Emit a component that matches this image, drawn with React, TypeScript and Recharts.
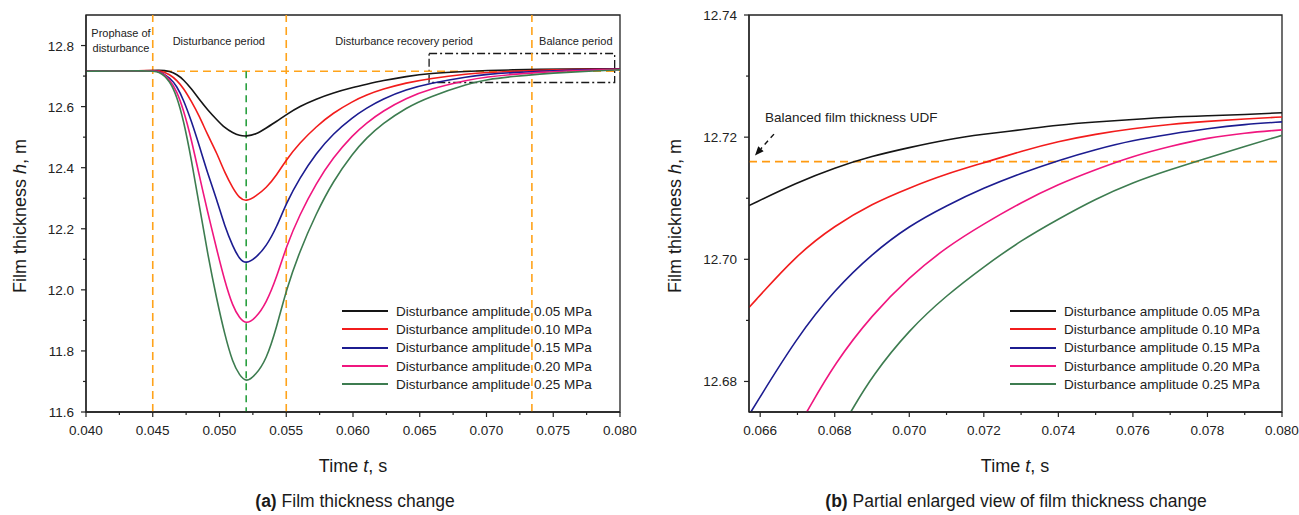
import React from "react";
import { LineChart, Line, XAxis, YAxis, ReferenceLine, ReferenceArea, ReferenceDot, Legend } from "recharts";

const FONT = '"Liberation Sans", Arial, Helvetica, sans-serif';
const AXIS = "#222";
const ORANGE = "#ffa31a";

const seriesNames = [
  "Disturbance amplitude 0.05 MPa",
  "Disturbance amplitude 0.10 MPa",
  "Disturbance amplitude 0.15 MPa",
  "Disturbance amplitude 0.20 MPa",
  "Disturbance amplitude 0.25 MPa",
];
const seriesKeys = ["a05", "a10", "a15", "a20", "a25"];
const seriesColors = ["#151515", "#f21c1c", "#1c1c90", "#f0167f", "#3d7c50"];

// (a) full time history
const fullTime = [0.040, 0.0445, 0.0455, 0.0463, 0.0468, 0.0473, 0.0479, 0.0485, 0.0491, 0.0498, 0.0504, 0.0510, 0.0515, 0.0520, 0.0527, 0.0535, 0.0543, 0.0550, 0.0560, 0.05725, 0.0585, 0.0600, 0.0610, 0.0622, 0.0640, 0.0657, 0.0687, 0.070, 0.072, 0.074, 0.076, 0.078, 0.080];
const full05 = [12.716, 12.717, 12.720, 12.716, 12.705, 12.689, 12.658, 12.623, 12.590, 12.557, 12.530, 12.514, 12.505, 12.503, 12.508, 12.530, 12.552, 12.574, 12.601, 12.625, 12.645, 12.663, 12.673, 12.685, 12.699, 12.709, 12.716, 12.7183, 12.7205, 12.7220, 12.7229, 12.7235, 12.7240];
const full10 = [12.716, 12.717, 12.720, 12.705, 12.686, 12.661, 12.617, 12.568, 12.508, 12.448, 12.383, 12.333, 12.300, 12.289, 12.306, 12.333, 12.377, 12.426, 12.481, 12.535, 12.579, 12.618, 12.638, 12.657, 12.678, 12.692, 12.708, 12.7117, 12.7158, 12.7193, 12.7214, 12.7226, 12.7233];
const full15 = [12.716, 12.717, 12.719, 12.694, 12.667, 12.623, 12.552, 12.470, 12.383, 12.295, 12.207, 12.142, 12.100, 12.085, 12.104, 12.142, 12.207, 12.284, 12.366, 12.448, 12.511, 12.566, 12.595, 12.625, 12.656, 12.676, 12.699, 12.7055, 12.7117, 12.7162, 12.7195, 12.7214, 12.7225];
const full20 = [12.716, 12.717, 12.719, 12.689, 12.650, 12.590, 12.492, 12.371, 12.257, 12.131, 12.027, 11.945, 11.907, 11.887, 11.907, 11.956, 12.043, 12.142, 12.246, 12.350, 12.433, 12.508, 12.546, 12.585, 12.628, 12.657, 12.6885, 12.6971, 12.7058, 12.7123, 12.7169, 12.7199, 12.7212];
const full25 = [12.716, 12.717, 12.718, 12.683, 12.634, 12.557, 12.426, 12.273, 12.120, 11.967, 11.852, 11.760, 11.721, 11.696, 11.721, 11.770, 11.880, 12.000, 12.126, 12.251, 12.355, 12.448, 12.497, 12.544, 12.597, 12.632, 12.676, 12.6885, 12.6988, 12.7066, 12.7126, 12.7166, 12.7203];

const fullXTicks = [0.04, 0.0425, 0.045, 0.0475, 0.05, 0.0525, 0.055, 0.0575, 0.06, 0.0625, 0.065, 0.0675, 0.07, 0.0725, 0.075, 0.0775, 0.08];
const fullXMajor = [0.04, 0.045, 0.05, 0.055, 0.06, 0.065, 0.07, 0.075, 0.08];
const fullYTicks = [11.6, 11.7, 11.8, 11.9, 12.0, 12.1, 12.2, 12.3, 12.4, 12.5, 12.6, 12.7, 12.8];
const fullYMajor = [11.6, 11.8, 12.0, 12.2, 12.4, 12.6, 12.8];

const phaseBounds = [0.045, 0.055, 0.0734];
const peakTime = 0.052;
const balanceH = 12.716;
const zoomBox = [0.0657, 0.0796, 12.679, 12.774];
const phaseLabels = ["Prophase of", "disturbance", "Disturbance period", "Disturbance recovery period", "Balance period"];
const phaseLabelT = [0.04262, 0.04262, 0.04995, 0.06383, 0.07669];
const phaseLabelH = [12.839, 12.793, 12.816, 12.816, 12.816];

// (b) enlarged recovery
const zoomTime = [0.067, 0.068, 0.069, 0.070, 0.071, 0.072, 0.073, 0.074, 0.075, 0.076, 0.077, 0.078, 0.079, 0.080];
const zoom05 = [12.7126, 12.7150, 12.7169, 12.7183, 12.7196, 12.7205, 12.7212, 12.7220, 12.7225, 12.7229, 12.7233, 12.7235, 12.7237, 12.7240];
const zoom10 = [12.7009, 12.7055, 12.7091, 12.7117, 12.7140, 12.7158, 12.7177, 12.7193, 12.7205, 12.7214, 12.7221, 12.7226, 12.7230, 12.7233];
const zoom15 = [12.6874, 12.6950, 12.7009, 12.7055, 12.7088, 12.7117, 12.7141, 12.7162, 12.7180, 12.7195, 12.7205, 12.7214, 12.7221, 12.7225];
const zoom20 = [null, 12.6830, 12.6909, 12.6971, 12.7020, 12.7058, 12.7093, 12.7123, 12.7147, 12.7169, 12.7185, 12.7199, 12.7207, 12.7212];
const zoom25 = [null, null, 12.6809, 12.6885, 12.6941, 12.6988, 12.7031, 12.7066, 12.7099, 12.7126, 12.7147, 12.7166, 12.7185, 12.7203];
const zoomEntryT = [0.0657, 0.0657, 0.06575, 0.06725, 0.06843];
const zoomEntryH = [12.7088, 12.6921, 12.675, 12.675, 12.675];

const zoomXTicks = [0.066, 0.067, 0.068, 0.069, 0.07, 0.071, 0.072, 0.073, 0.074, 0.075, 0.076, 0.077, 0.078, 0.079, 0.08];
const zoomXMajor = [0.066, 0.068, 0.07, 0.072, 0.074, 0.076, 0.078, 0.08];
const zoomYTicks = [12.68, 12.69, 12.7, 12.71, 12.72, 12.73, 12.74];
const zoomYMajor = [12.68, 12.7, 12.72, 12.74];
const udfLabel = "Balanced film thickness UDF";
const udfLabelAt = [0.06613, 12.7233];
const udfArrow = [0.06637, 12.7205, 0.06586, 12.717];

const fullRows = fullTime.map((t, i) => ({
  t,
  a05: full05[i],
  a10: full10[i],
  a15: full15[i],
  a20: full20[i],
  a25: full25[i],
}));

const zoomSeries = [zoom05, zoom10, zoom15, zoom20, zoom25].map((vals, s) => [
  { t: zoomEntryT[s], h: zoomEntryH[s] },
  ...zoomTime.map((t, i) => ({ t, h: vals[i] })).filter((d) => d.h !== null),
]);

function AxisTick(props: any) {
  const { x, y, payload, side, majors, digits } = props;
  const v = payload.value;
  const major = majors.some((m: number) => Math.abs(m - v) < 1e-7);
  const len = major ? 5 : 3;
  if (side === "x") {
    return (
      <g>
        <line x1={x} x2={x} y1={y} y2={y + len} stroke={AXIS} strokeWidth={1.2} />
        {major && (
          <text x={x} y={y + 23} textAnchor="middle" fontSize={13.5} fill="#222" fontFamily={FONT}>
            {v.toFixed(digits)}
          </text>
        )}
      </g>
    );
  }
  return (
    <g>
      <line x1={x - len} x2={x} y1={y} y2={y} stroke={AXIS} strokeWidth={1.2} />
      {major && (
        <text x={x - 12} y={y + 5} textAnchor="end" fontSize={13.5} fill="#222" fontFamily={FONT}>
          {v.toFixed(digits)}
        </text>
      )}
    </g>
  );
}

function LegendBox() {
  return (
    <div style={{ fontFamily: FONT, fontSize: 13.5, color: "#222" }}>
      {seriesNames.map((name, i) => (
        <div key={name} style={{ display: "flex", alignItems: "center", height: 18.3 }}>
          <div style={{ width: 46, height: 2, background: seriesColors[i], marginRight: 8, flexShrink: 0 }} />
          <span style={{ whiteSpace: "nowrap" }}>{name}</span>
        </div>
      ))}
    </div>
  );
}

function TextMark(text: string, size: number, anchor: string) {
  return (p: any) => (
    <text x={p.cx} y={p.cy} dy="0.35em" textAnchor={anchor} fontSize={size} fill="#222" fontFamily={FONT}>
      {text}
    </text>
  );
}

function ArrowShape(p: any) {
  const { x1, y1, x2, y2 } = p;
  const ang = Math.atan2(y2 - y1, x2 - x1);
  const hl = 9;
  const hw = 3.6;
  const bx = x2 - hl * Math.cos(ang);
  const by = y2 - hl * Math.sin(ang);
  const nx = -Math.sin(ang);
  const ny = Math.cos(ang);
  return (
    <g>
      <line x1={x1} y1={y1} x2={bx} y2={by} stroke="#111" strokeWidth={1.4} strokeDasharray="5 4" />
      <polygon points={`${x2},${y2} ${bx + nx * hw},${by + ny * hw} ${bx - nx * hw},${by - ny * hw}`} fill="#111" />
    </g>
  );
}

const titleStyle: React.CSSProperties = {
  position: "absolute",
  fontFamily: FONT,
  fontSize: 18,
  color: "#1a1a1a",
  whiteSpace: "nowrap",
  transform: "translate(-50%, -50%)",
};

export default function App() {
  return (
    <div style={{ position: "absolute", left: 0, top: 0, width: 1299, height: 515, background: "#fff", overflow: "hidden" }}>
      <div style={{ position: "absolute", left: 0, top: 0 }}>
        <LineChart width={640} height={515} data={fullRows} margin={{ top: 15, right: 20, left: 26, bottom: 63 }}>
          <XAxis
            dataKey="t"
            type="number"
            domain={[0.04, 0.08]}
            ticks={fullXTicks}
            interval={0}
            height={40}
            tickSize={0}
            tickMargin={0}
            tickLine={false}
            axisLine={{ stroke: AXIS, strokeWidth: 1.3 }}
            tick={(p: any) => <AxisTick {...p} side="x" majors={fullXMajor} digits={3} />}
          />
          <YAxis
            type="number"
            domain={[11.6, 12.9]}
            ticks={fullYTicks}
            interval={0}
            width={60}
            tickSize={0}
            tickMargin={0}
            tickLine={false}
            axisLine={{ stroke: AXIS, strokeWidth: 1.3 }}
            tick={(p: any) => <AxisTick {...p} side="y" majors={fullYMajor} digits={1} />}
          />
          <ReferenceArea x1={0.04} x2={0.08} y1={11.6} y2={12.9} fill="none" stroke={AXIS} strokeWidth={1.3} />
          {phaseBounds.map((b) => (
            <ReferenceLine key={b} x={b} stroke={ORANGE} strokeWidth={1.6} strokeDasharray="8 5" />
          ))}
          <ReferenceLine y={balanceH} stroke={ORANGE} strokeWidth={1.6} strokeDasharray="8 5" />
          <ReferenceLine
            segment={[{ x: peakTime, y: balanceH }, { x: peakTime, y: 11.6 }]}
            stroke="#2aa040"
            strokeWidth={1.6}
            strokeDasharray="7 5"
          />
          <ReferenceArea
            x1={zoomBox[0]}
            x2={zoomBox[1]}
            y1={zoomBox[2]}
            y2={zoomBox[3]}
            fill="none"
            stroke="#1a1a1a"
            strokeWidth={1.3}
            strokeDasharray="8 3 2 3"
          />
          {phaseLabels.map((txt, i) => (
            <ReferenceDot key={txt} x={phaseLabelT[i]} y={phaseLabelH[i]} r={0} shape={TextMark(txt, 11, "middle")} />
          ))}
          {seriesKeys.map((k, i) => (
            <Line
              key={k}
              dataKey={k}
              name={seriesNames[i]}
              type="basis"
              stroke={seriesColors[i]}
              strokeWidth={1.6}
              dot={false}
              isAnimationActive={false}
            />
          ))}
          <Legend
            layout="vertical"
            align="center"
            verticalAlign="middle"
            content={() => <LegendBox />}
            wrapperStyle={{ left: 342, top: 302, width: 280, height: 95 }}
          />
        </LineChart>
      </div>

      <div style={{ position: "absolute", left: 650, top: 0 }}>
        <LineChart width={649} height={515} margin={{ top: 15, right: 17, left: 39, bottom: 63 }}>
          <XAxis
            dataKey="t"
            type="number"
            domain={[0.0657, 0.08]}
            allowDataOverflow
            ticks={zoomXTicks}
            interval={0}
            height={40}
            tickSize={0}
            tickMargin={0}
            tickLine={false}
            axisLine={{ stroke: AXIS, strokeWidth: 1.3 }}
            tick={(p: any) => <AxisTick {...p} side="x" majors={zoomXMajor} digits={3} />}
          />
          <YAxis
            type="number"
            domain={[12.675, 12.74]}
            allowDataOverflow
            ticks={zoomYTicks}
            interval={0}
            width={60}
            tickSize={0}
            tickMargin={0}
            tickLine={false}
            axisLine={{ stroke: AXIS, strokeWidth: 1.3 }}
            tick={(p: any) => <AxisTick {...p} side="y" majors={zoomYMajor} digits={2} />}
          />
          <ReferenceArea x1={0.0657} x2={0.08} y1={12.675} y2={12.74} fill="none" stroke={AXIS} strokeWidth={1.3} />
          <ReferenceLine y={balanceH} stroke="#ff9a10" strokeWidth={1.6} strokeDasharray="8 5" />
          <ReferenceDot x={udfLabelAt[0]} y={udfLabelAt[1]} r={0} shape={TextMark(udfLabel, 13.5, "start")} />
          <ReferenceLine
            segment={[{ x: udfArrow[0], y: udfArrow[1] }, { x: udfArrow[2], y: udfArrow[3] }]}
            shape={ArrowShape}
          />
          {zoomSeries.map((d, i) => (
            <Line
              key={seriesKeys[i]}
              data={d}
              dataKey="h"
              name={seriesNames[i]}
              type="basis"
              stroke={seriesColors[i]}
              strokeWidth={1.6}
              dot={false}
              isAnimationActive={false}
            />
          ))}
          <Legend
            layout="vertical"
            align="center"
            verticalAlign="middle"
            content={() => <LegendBox />}
            wrapperStyle={{ left: 360, top: 302, width: 280, height: 95 }}
          />
        </LineChart>
      </div>

      <div style={{ ...titleStyle, left: 20, top: 216, transform: "translate(-50%, -50%) rotate(-90deg)" }}>
        Film thickness <i>h</i>, m
      </div>
      <div style={{ ...titleStyle, left: 675, top: 216, transform: "translate(-50%, -50%) rotate(-90deg)" }}>
        Film thickness <i>h</i>, m
      </div>
      <div style={{ ...titleStyle, left: 353, top: 466 }}>
        Time <i>t</i>, s
      </div>
      <div style={{ ...titleStyle, left: 1015, top: 466 }}>
        Time <i>t</i>, s
      </div>
      <div style={{ ...titleStyle, left: 355, top: 501, fontSize: 17.5 }}>
        <b>(a)</b> Film thickness change
      </div>
      <div style={{ ...titleStyle, left: 1016, top: 501, fontSize: 17.5 }}>
        <b>(b)</b> Partial enlarged view of film thickness change
      </div>
    </div>
  );
}
